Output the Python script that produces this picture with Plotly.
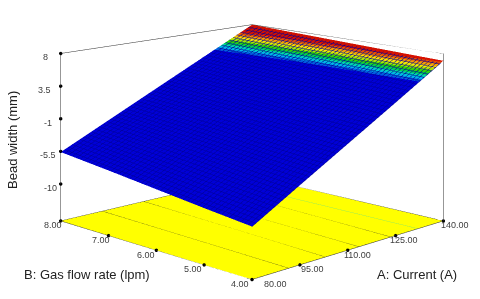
import plotly.graph_objects as go

# Values
current_ticks = [80, 95, 110, 125, 140]
gas_ticks = [4, 5, 6, 7, 8]
z_ticks = [-10, -5.5, -1, 3.5, 8]
z_top = 8
z_back_top = 6.2
# floor level at the corners: rows = gas flow (4, 8), columns = current (80, 140)
floor_height = [[-17.4, -15.1], [-15.1, -14.7]]
# surface height on the tick grid: rows = gas flow, columns = current
surface_height = [
    [-10.1, -5.8, -1.55, 2.7, 7.0],
    [-9.0, -5.0, -1.1, 2.85, 6.8],
    [-7.85, -4.2, -0.6, 3.0, 6.6],
    [-6.7, -3.4, -0.15, 3.1, 6.4],
    [-5.6, -2.65, 0.3, 3.25, 6.2],
]
# bead width used for the colour bands
bead_width = [
    [-8.0, -4.2, -0.3, 3.5, 7.3],
    [-7.4, -3.7, 0.0, 3.7, 7.5],
    [-6.8, -3.2, 0.4, 4.0, 7.6],
    [-6.1, -2.6, 0.9, 4.3, 7.8],
    [-5.5, -2.1, 1.2, 4.7, 8.0],
]
band_colors = ["#0000d8", "#0060e0", "#00b8e8", "#00d8b0", "#00d050", "#30d800",
               "#a8e800", "#f8e800", "#f8a000", "#e85000", "#d81000", "#d01000"]
band_min, band_max = 5.2, 7.6
contour_low = [91.5, 103, 113.5, 123.5]
contour_high = [93, 106, 116, 126]
green_contour = [132, 132]
mesh_step_current = 1.2
mesh_step_gas = 0.08

z_labels = ["-10", "-5.5", "-1", "3.5", "8"]
current_labels = ["80.00", "95.00", "110.00", "125.00", "140.00"]
gas_labels = ["4.00", "5.00", "6.00", "7.00", "8.00"]

# label offsets in pixels
z_label_dx = [-1.5, -3, -7, -8, -11]
current_label_dx = [23, 13, 10, 8, 12]
gas_label_dx = [-12, -11, -10, -8, -7.5]


def floor_at(a, b):
    u = (a - 80) / 60
    v = (b - 4) / 4
    return ((1 - u) * (1 - v) * floor_height[0][0] + u * (1 - v) * floor_height[0][1]
            + (1 - u) * v * floor_height[1][0] + u * v * floor_height[1][1])


n = len(band_colors)
scale = []
for i, c in enumerate(band_colors):
    scale += [[i / n, c], [(i + 1) / n, c]]

flat = dict(ambient=1, diffuse=0, specular=0, roughness=1, fresnel=0)
fig = go.Figure()
fig.add_surface(x=[80, 140], y=[4, 8], z=floor_height, surfacecolor=[[0, 0], [0, 0]],
                colorscale=[[0, "#ffff00"], [1, "#ffff00"]], showscale=False, hoverinfo="skip",
                lighting=flat)
fig.add_surface(x=current_ticks, y=gas_ticks, z=surface_height, surfacecolor=bead_width,
                colorscale=scale, cmin=band_min, cmax=band_max, showscale=False, lighting=flat,
                contours=dict(
                    x=dict(show=True, start=80, end=140, size=mesh_step_current, color="#000098", width=1),
                    y=dict(show=True, start=4, end=8, size=mesh_step_gas, color="#000098", width=1)))


def line(xs, ys, zs, color="#303030", width=1):
    fig.add_scatter3d(x=xs, y=ys, z=zs, mode="lines", line=dict(color=color, width=width),
                      showlegend=False, hoverinfo="skip")


# box frame
fx, fy = [80, 80, 140, 140, 80], [8, 4, 4, 8, 8]
line(fx, fy, [floor_at(a, b) for a, b in zip(fx, fy)])
line([80, 140, 140], [8, 8, 4], [z_top, z_back_top, z_top])
line([80, 80], [8, 8], [floor_at(80, 8), z_top])
line([140, 140], [4, 4], [floor_at(140, 4), z_top])
# floor contours
for a, b in zip(contour_low, contour_high):
    line([a, b], [4, 8], [floor_at(a, 4), floor_at(b, 8)], color="#202020")
line(green_contour, [4, 8], [floor_at(green_contour[0], 4), floor_at(green_contour[1], 8)], color="#40d8a0")

txt = dict(family="Liberation Sans, Arial", size=9, color="#404040")
marker = dict(size=2, color="black")
fig.add_scatter3d(x=[80] * 5, y=[8] * 5, z=z_ticks, mode="markers", marker=marker, showlegend=False, hoverinfo="skip")
fig.add_scatter3d(x=current_ticks, y=[4] * 5, z=[floor_at(a, 4) for a in current_ticks], mode="markers",
                  marker=marker, showlegend=False, hoverinfo="skip")
fig.add_scatter3d(x=[80] * 5, y=gas_ticks, z=[floor_at(80, b) for b in gas_ticks], mode="markers",
                  marker=marker, showlegend=False, hoverinfo="skip")
ann = []
for z, t, dx in zip(z_ticks, z_labels, z_label_dx):
    ann.append(dict(x=80, y=8, z=z, text=t, showarrow=False, xanchor="right", xshift=dx, yshift=-4, font=txt))
for a, t, dx in zip(current_ticks, current_labels, current_label_dx):
    ann.append(dict(x=a, y=4, z=floor_at(a, 4), text=t, showarrow=False, xanchor="center", xshift=dx, yshift=-4.5, font=txt))
for b, t, dx in zip(gas_ticks, gas_labels, gas_label_dx):
    ann.append(dict(x=80, y=b, z=floor_at(80, b), text=t, showarrow=False, xanchor="center", xshift=dx, yshift=-4.5, font=txt))

hidden = dict(visible=False, showgrid=False, showbackground=False, zeroline=False, showticklabels=False, title="")
title_font = dict(family="Liberation Sans, Arial", size=13, color="#222222")
fig.update_layout(
    width=480, height=299, margin=dict(l=0, r=0, t=0, b=0), paper_bgcolor="white", showlegend=False,
    scene=dict(
        domain=dict(x=[0.0167, 1], y=[0, 1]),
        xaxis=dict(hidden, range=[80, 140]),
        yaxis=dict(hidden, range=[4, 8]),
        zaxis=dict(hidden, range=[-21.1, 8.4]),
        aspectmode="manual", aspectratio=dict(x=1.81, y=1.81, z=1.466),
        camera=dict(eye=dict(x=-2.07, y=-2.07, z=0.657), center=dict(x=0, y=0, z=0),
                    up=dict(x=0, y=0, z=1), projection=dict(type="orthographic")),
        annotations=ann,
    ),
    annotations=[
        dict(x=79/480, y=1-266/299, xref="paper", yref="paper", xanchor="center", yanchor="middle", text="B: Gas flow rate (lpm)", showarrow=False, font=title_font),
        dict(x=409/480, y=1-266/299, xref="paper", yref="paper", xanchor="center", yanchor="middle", text="A: Current (A)", showarrow=False, font=title_font),
        dict(x=5/480, y=1-132/299, xref="paper", yref="paper", xanchor="center", yanchor="middle", text="Bead width (mm)", textangle=-90, showarrow=False, font=title_font),
    ],
)
fig.write_html("out.html")
